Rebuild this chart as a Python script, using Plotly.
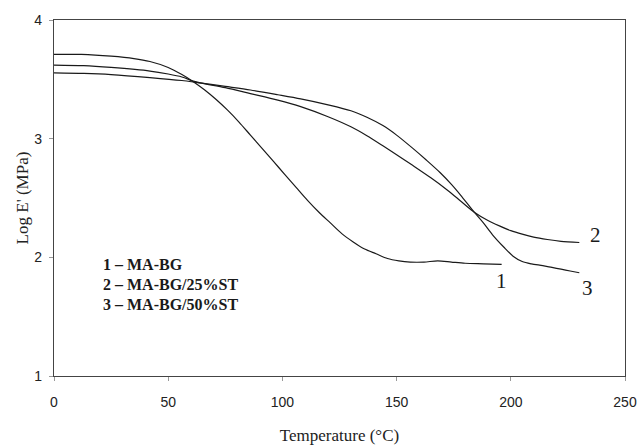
import plotly.graph_objects as go

# Curve 1: MA-BG
t1 = [0, 12, 25, 35, 42, 50, 56, 61, 66, 71, 76, 81, 86, 91, 96, 101, 106, 111,
      116, 121, 126, 131, 136, 141, 146, 151, 156, 162, 168, 174, 180, 188, 196]
e1 = [3.71, 3.71, 3.695, 3.675, 3.65, 3.60, 3.54, 3.48, 3.41, 3.33, 3.24, 3.14,
      3.03, 2.92, 2.81, 2.70, 2.59, 2.48, 2.38, 2.29, 2.20, 2.13, 2.07, 2.03, 1.99,
      1.97, 1.96, 1.96, 1.97, 1.96, 1.95, 1.945, 1.94]

# Curve 2: MA-BG/25%ST
t2 = [0, 13, 25, 42, 50, 56, 61, 64, 75, 86, 98, 108, 120, 130, 137, 144, 150, 157,
      165, 172, 178, 184, 190, 195, 200, 205, 210, 216, 222, 230]
e2 = [3.62, 3.615, 3.60, 3.57, 3.545, 3.52, 3.485, 3.47, 3.43, 3.38, 3.325, 3.27,
      3.185, 3.10, 3.025, 2.94, 2.865, 2.775, 2.67, 2.57, 2.475, 2.38, 2.31, 2.265,
      2.225, 2.195, 2.17, 2.15, 2.135, 2.125]

# Curve 3: MA-BG/50%ST
t3 = [0, 13, 25, 42, 56, 62, 75, 86, 98, 108, 120, 130, 137, 144, 150, 157, 163,
      169, 174, 178, 184, 188, 192, 197, 201, 205, 209, 214, 218, 222, 226, 230]
e3 = [3.555, 3.55, 3.54, 3.515, 3.49, 3.475, 3.44, 3.41, 3.37, 3.335, 3.285, 3.235,
      3.18, 3.11, 3.03, 2.92, 2.82, 2.715, 2.615, 2.525, 2.38, 2.29, 2.19, 2.085,
      2.01, 1.965, 1.945, 1.93, 1.915, 1.90, 1.885, 1.87]

curve_labels = ["1", "2", "3"]
label_x = [196, 237, 233.5]
label_y = [1.80, 2.19, 1.745]

legend_lines = ["1 – MA-BG", "2 – MA-BG/25%ST", "3 – MA-BG/50%ST"]
legend_y = [1.94, 1.77, 1.60]
legend_x = 20.5

x_ticks = [0, 50, 100, 150, 200, 250]
y_ticks = [1, 2, 3, 4]

fig = go.Figure()
for t, e in [(t1, e1), (t2, e2), (t3, e3)]:
    fig.add_trace(go.Scatter(x=t, y=e, mode="lines",
                             line=dict(color="#1a1a1a", width=1.2, shape="spline", smoothing=0.8),
                             showlegend=False, hoverinfo="skip"))

for lab, lx, ly in zip(curve_labels, label_x, label_y):
    fig.add_annotation(x=lx, y=ly, text=lab, showarrow=False,
                       font=dict(family="Liberation Serif", size=21, color="#1a1a1a"))

for txt, ly in zip(legend_lines, legend_y):
    fig.add_annotation(x=legend_x, y=ly, text="<b>" + txt + "</b>", showarrow=False,
                       xanchor="left",
                       font=dict(family="Liberation Serif", size=16, color="#1a1a1a"))

axis_common = dict(showline=True, linecolor="#444", linewidth=1.2, mirror=True,
                   showgrid=False, zeroline=False, ticks="outside", ticklen=4,
                   tickcolor="#999", tickwidth=1, automargin=False,
                   tickfont=dict(family="Liberation Sans", size=14, color="#222"))

fig.update_layout(
    width=640, height=447,
    margin=dict(l=54, r=15, t=20, b=71),
    plot_bgcolor="white", paper_bgcolor="white",
    xaxis=dict(range=[0, 250], tickvals=x_ticks, ticklabelstandoff=9,
               title=dict(text="Temperature (°C)", standoff=20,
                          font=dict(family="Liberation Serif", size=17, color="#222")),
               **axis_common),
    yaxis=dict(range=[1, 4], tickvals=y_ticks, ticklabelstandoff=4,
               title=dict(text="Log E' (MPa)", standoff=1,
                          font=dict(family="Liberation Serif", size=17, color="#222")),
               **axis_common),
)

fig.write_html("out.html")
